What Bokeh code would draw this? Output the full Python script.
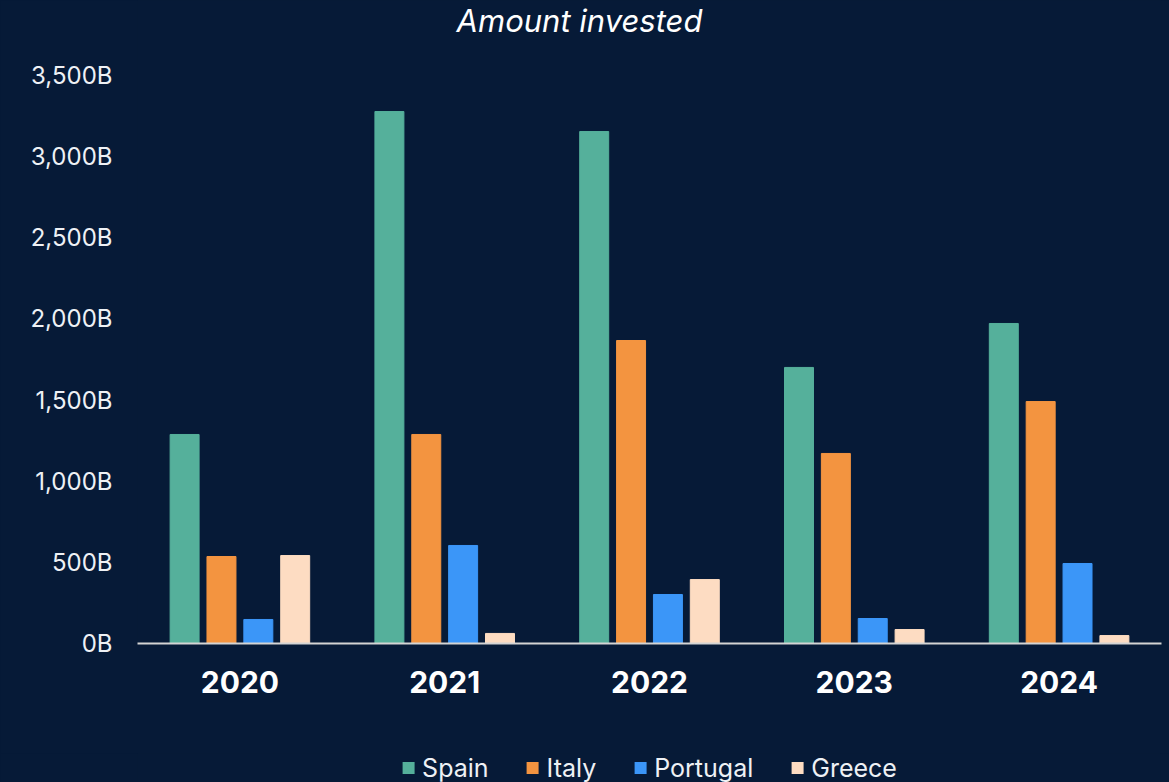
from bokeh.plotting import figure
from bokeh.layouts import column
from bokeh.models import ColumnDataSource, FactorRange, Range1d, Legend, LegendItem, Label
from bokeh.transform import dodge
from bokeh.embed import file_html
from bokeh.resources import INLINE

years = ["2020", "2021", "2022", "2023", "2024"]
countries = ["Spain", "Italy", "Portugal", "Greece"]
spain = [1288, 3278, 3155, 1701, 1972]
italy = [536, 1288, 1867, 1171, 1491]
portugal = [148, 604, 302, 154, 493]
greece = [542, 62, 394, 86, 49]
colors = ["#55b09b", "#f39440", "#3b96f8", "#fddcc2"]
y_ticks = [0, 500, 1000, 1500, 2000, 2500, 3000, 3500]
y_tick_labels = ["0B", "500B", "1,000B", "1,500B", "2,000B", "2,500B", "3,000B", "3,500B"]
chart_title = "Amount invested"

BG = "#061a37"
FONT = "Inter"

source = ColumnDataSource(dict(year=years, Spain=spain, Italy=italy, Portugal=portugal, Greece=greece))
offsets = [-0.27, -0.09, 0.09, 0.27]

# main chart: frame spans from the top of the canvas to the baseline
p = figure(x_range=FactorRange(*years, range_padding=0), y_range=Range1d(0, 3500 * 643 / 568),
           frame_width=1024, frame_height=643, output_backend="svg", toolbar_location=None,
           background_fill_color=BG, border_fill_color=BG, outline_line_color=None,
           min_border_left=136, min_border_right=9, min_border_top=0, min_border_bottom=110)

for c, off, col in zip(countries, offsets, colors):
    p.vbar(x=dodge("year", off, range=p.x_range), top=c, width=0.1415, source=source,
           fill_color=col, line_color=col, line_width=1)

title = Label(x=442, y=623, x_units="screen", y_units="screen", text=chart_title,
              text_font=FONT, text_font_style="italic", text_font_size="31px",
              text_color="#ffffff", text_align="center", text_baseline="alphabetic")
p.add_layout(title)

p.xgrid.grid_line_color = None
p.ygrid.grid_line_color = None

p.yaxis.ticker = y_ticks
p.yaxis.major_label_overrides = {t: l for t, l in zip(y_ticks, y_tick_labels)}
p.yaxis.axis_line_color = None
p.yaxis.major_tick_line_color = None
p.yaxis.minor_tick_line_color = None
p.yaxis.major_label_text_font = FONT
p.yaxis.major_label_text_font_size = "24px"
p.yaxis.major_label_text_color = "#eef1f5"
p.yaxis.major_label_standoff = 19

p.xaxis.axis_line_color = "#d4d4d4"
p.xaxis.axis_line_width = 2
p.xaxis.major_tick_line_color = None
p.xaxis.minor_tick_line_color = None
p.xaxis.major_label_text_font = FONT
p.xaxis.major_label_text_font_style = "bold"
p.xaxis.major_label_text_font_size = "30px"
p.xaxis.major_label_text_color = "#ffffff"
p.xaxis.major_label_standoff = 21

# legend strip under the chart; its bars have zero width and sit outside its y range,
# so only the legend swatches show
lg = figure(x_range=FactorRange(*years), y_range=Range1d(-2, -1),
            width=1169, height=29, output_backend="svg", toolbar_location=None,
            background_fill_color=BG, border_fill_color=BG, outline_line_color=None,
            x_axis_type=None, y_axis_type=None,
            min_border_left=137, min_border_right=0, min_border_top=0, min_border_bottom=0)
lg.xgrid.grid_line_color = None
lg.ygrid.grid_line_color = None
items = []
for c, off, col in zip(countries, offsets, colors):
    r = lg.vbar(x=dodge("year", off, range=lg.x_range), top=c, width=0, source=source,
                fill_color=col, line_color=col, line_alpha=0)
    items.append(LegendItem(label=c, renderers=[r]))

legend = Legend(items=items, orientation="horizontal", location="center",
                label_text_font=FONT, label_text_font_size="25px", label_text_color="#eef1f5",
                glyph_width=15, glyph_height=15, label_standoff=7, spacing=36,
                background_fill_alpha=0, border_line_alpha=0, margin=0, padding=0)
lg.add_layout(legend)

layout = column(p, lg, spacing=0, styles={"background-color": BG})

html = file_html(layout, INLINE)
html = html.replace("<body>", '<body style="background:%s">' % BG)
open("out.html", "w").write(html)
